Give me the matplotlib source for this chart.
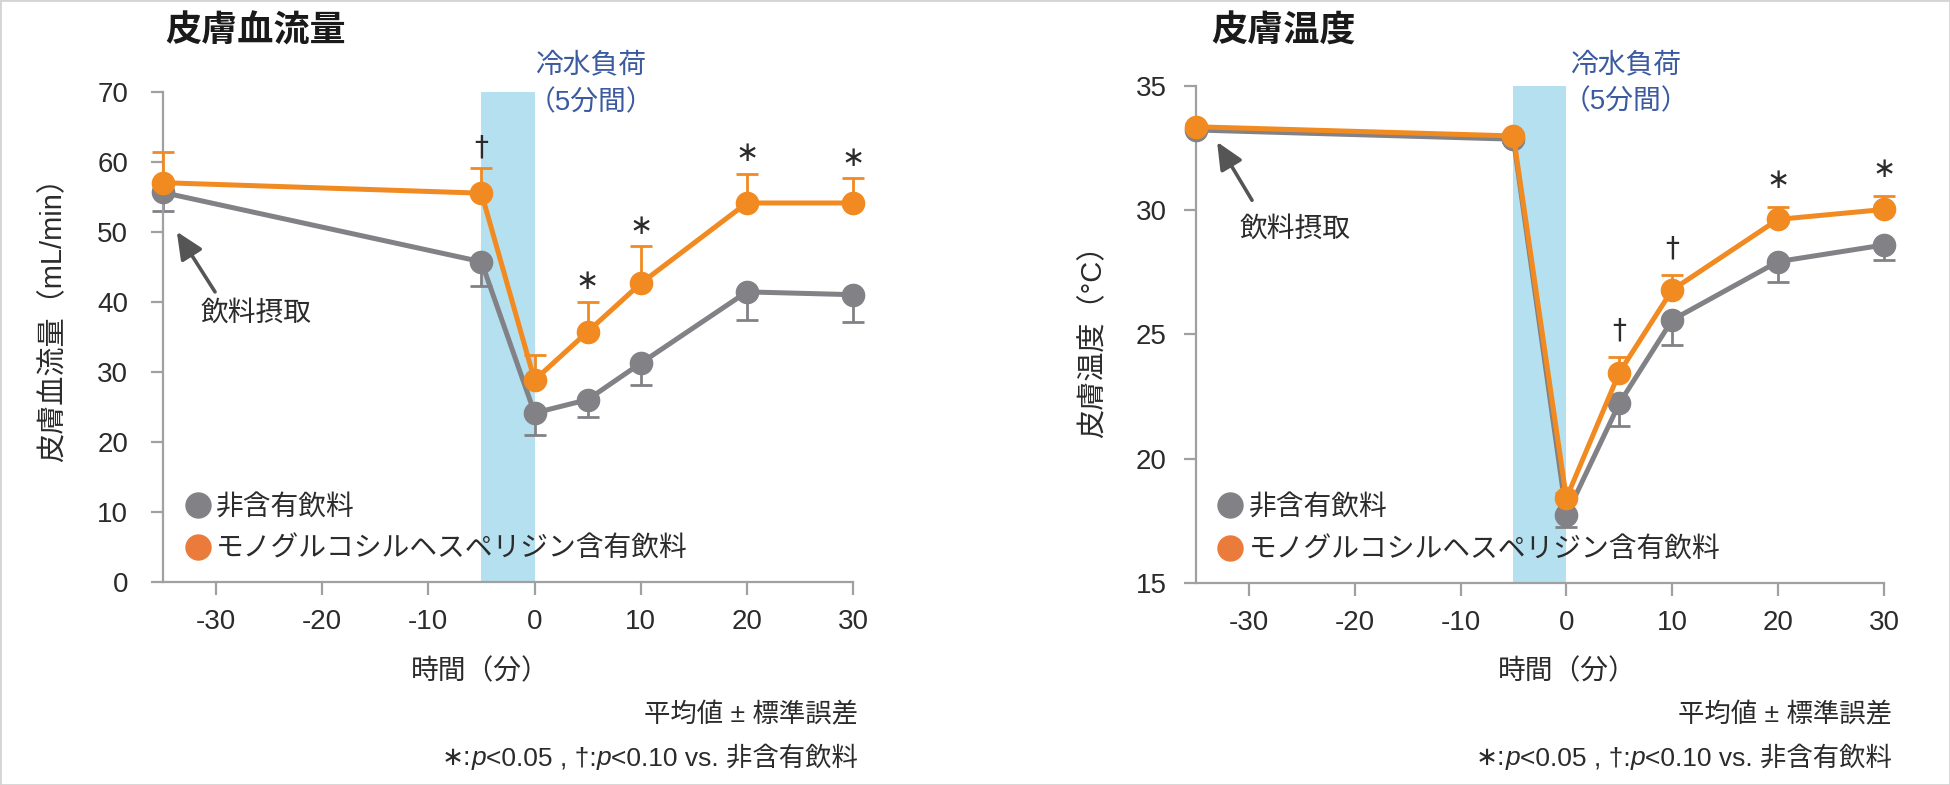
import matplotlib
matplotlib.use("Agg")
import matplotlib.pyplot as plt
from matplotlib.lines import Line2D
from matplotlib.patches import Rectangle

plt.rcParams["font.family"] = ["Liberation Sans", "Noto Sans CJK JP", "DejaVu Sans"]
plt.rcParams["axes.unicode_minus"] = False

# time points (min)
times = [-35, -5, 0, 5, 10, 20, 30]
xticks = [-30, -20, -10, 0, 10, 20, 30]

# skin blood flow (mL/min)
flow_ctrl = [55.6, 45.7, 24.1, 26.0, 31.2, 41.4, 41.0]
flow_ctrl_se = [2.7, 3.4, 3.1, 2.5, 3.1, 4.0, 3.9]
flow_mgh = [57.0, 55.5, 28.8, 35.7, 42.6, 54.1, 54.1]
flow_mgh_se = [4.4, 3.6, 3.6, 4.3, 5.3, 4.2, 3.5]
flow_sig = ["", "†", "", "∗", "∗", "∗", "∗"]

# skin temperature (°C)
temp_ctrl = [33.23, 32.86, 17.73, 22.22, 25.58, 27.93, 28.6]
temp_ctrl_se = [0.1, 0.1, 0.47, 0.91, 1.01, 0.81, 0.6]
temp_mgh = [33.36, 32.99, 18.4, 23.46, 26.79, 29.63, 30.03]
temp_mgh_se = [0.1, 0.1, 0.2, 0.62, 0.6, 0.51, 0.56]
temp_sig = ["", "", "", "†", "†", "∗", "∗"]

labels = ["非含有飲料", "モノグルコシルヘスペリジン含有飲料"]
gray = "#818186"
orange = "#F28A22"
band = "#b5e0f0"
blue = "#3b5aa0"
txt = "#2b2b2b"
axc = "#a0a0a0"

fig = plt.figure(figsize=(19.5, 7.85), dpi=100)
fig.patches.append(Rectangle((0, 0), 1, 1, transform=fig.transFigure, fill=False,
                             edgecolor="#d4d4d4", lw=2))

ax1 = fig.add_axes([0.0836, 0.2590, 0.3538, 0.6242])
ax2 = fig.add_axes([0.6133, 0.2577, 0.3528, 0.6327])


def draw_panel(ax, ctrl, ctrl_se, mgh, mgh_se, sig, ylim, yticks, sig_off, ypad):
    ax.axvspan(-5, 0, color=band, zorder=0, lw=0)
    n = len(times)
    # control: error bar downwards only, MGH: upwards only
    ax.errorbar(times, ctrl, yerr=[ctrl_se, [0] * n], fmt="none", ecolor=gray,
                elinewidth=2, capsize=8, capthick=2, zorder=2, clip_on=False)
    ax.errorbar(times, mgh, yerr=[[0] * n, mgh_se], fmt="none", ecolor=orange,
                elinewidth=2, capsize=8, capthick=2, zorder=3, clip_on=False)
    ax.plot(times, ctrl, "-o", color=gray, lw=3.6, ms=16, zorder=4, clip_on=False)
    ax.plot(times, mgh, "-o", color=orange, lw=3.6, ms=16, zorder=5, clip_on=False)
    for t, m, e, s in zip(times, mgh, mgh_se, sig):
        if s:
            ax.annotate(s, xy=(t, m + e), xytext=(0, sig_off), textcoords="offset points",
                        ha="center", va="center", fontsize=20, color=txt,
                        family=["DejaVu Sans"])

    ax.set_xlim(-35, 30)
    ax.set_ylim(*ylim)
    ax.set_xticks(xticks)
    ax.set_yticks(yticks)
    for side in ["top", "right"]:
        ax.spines[side].set_visible(False)
    for side in ["left", "bottom"]:
        ax.spines[side].set_color(axc)
        ax.spines[side].set_linewidth(1.6)
    ax.tick_params(axis="both", colors=axc, labelcolor=txt, labelsize=20,
                   length=9, width=1.6)
    ax.tick_params(axis="x", pad=11)
    ax.tick_params(axis="y", pad=ypad)

    handles = [Line2D([], [], ls="none", marker="o", ms=18, color=gray),
               Line2D([], [], ls="none", marker="o", ms=18, color="#EB7B3A")]
    ax.legend(handles, labels, loc="center left", bbox_to_anchor=(0.03, 0.108),
              frameon=False, fontsize=20, handlelength=1.0, handletextpad=0.15,
              labelspacing=0.6, borderpad=0, borderaxespad=0, labelcolor=txt)


draw_panel(ax1, flow_ctrl, flow_ctrl_se, flow_mgh, flow_mgh_se, flow_sig,
           (0, 70), range(0, 71, 10), 15, 16)
draw_panel(ax2, temp_ctrl, temp_ctrl_se, temp_mgh, temp_mgh_se, temp_sig,
           (15, 35), range(15, 36, 5), 19, 12)

# axis labels
ax1.set_ylabel("皮膚血流量（mL/min）", fontsize=21, color=txt)
ax1.yaxis.set_label_coords(-0.139, 0.55)
ax2.set_ylabel("皮膚温度（°C）", fontsize=21, color=txt)
ax2.yaxis.set_label_coords(-0.129, 0.5)
for ax, xl, yl in [(ax1, 0.46, -0.184), (ax2, 0.54, -0.179)]:
    ax.set_xlabel("時間（分）", fontsize=20, color=txt)
    ax.xaxis.label.set_va("center")
    ax.xaxis.set_label_coords(xl, yl)

# cold water load label
for ax, x, y1, y2 in [(ax1, 5.3, 73.8, 68.3), (ax2, 5.6, 35.85, 34.37)]:
    ax.text(x, y1, "冷水負荷", ha="center", va="center", fontsize=20, color=blue, clip_on=False)
    ax.text(x, y2, "（5分間）", ha="center", va="center", fontsize=20, color=blue, clip_on=False)

# drink intake arrows
arrow = dict(arrowstyle="-|>,head_length=0.55,head_width=0.25", color="#555555", lw=2.6,
             shrinkA=0, shrinkB=0, mutation_scale=30)
ax1.annotate("", xy=(-33.7, 50.0), xytext=(-30.1, 41.4), arrowprops=arrow)
ax1.text(-26.2, 38.3, "飲料摂取", ha="center", va="center", fontsize=20, color=txt)
ax2.annotate("", xy=(-33.0, 32.75), xytext=(-29.7, 30.4), arrowprops=arrow)
ax2.text(-25.6, 29.2, "飲料摂取", ha="center", va="center", fontsize=20, color=txt)

# titles
fig.text(165 / 1950, 1 - 32 / 785, "皮膚血流量", fontsize=26, fontweight="bold",
         ha="left", va="center", color="#1a1a1a")
fig.text(1211 / 1950, 1 - 32 / 785, "皮膚温度", fontsize=26, fontweight="bold",
         ha="left", va="center", color="#1a1a1a")

# footnotes, built right to left so that p can be italic
pieces = ["∗:", "p", "<0.05 , †:", "p", "<0.10 vs. 非含有飲料"]
styles = ["normal", "italic", "normal", "italic", "normal"]
for xr in [858 / 1950, 1892 / 1950]:
    fig.text(xr, 1 - 715 / 785, "平均値 ± 標準誤差", fontsize=19, ha="right",
             va="center", color=txt)
    prev = fig.text(xr, 1 - 758 / 785, pieces[-1], fontsize=19, ha="right",
                    va="center", color=txt)
    for s, st in zip(reversed(pieces[:-1]), reversed(styles[:-1])):
        prev = ax1.annotate(s, xy=(0, 0), xycoords=prev, ha="right", va="bottom",
                            fontsize=19, style=st, color=txt, annotation_clip=False)

fig.savefig("out.png", dpi=100)
